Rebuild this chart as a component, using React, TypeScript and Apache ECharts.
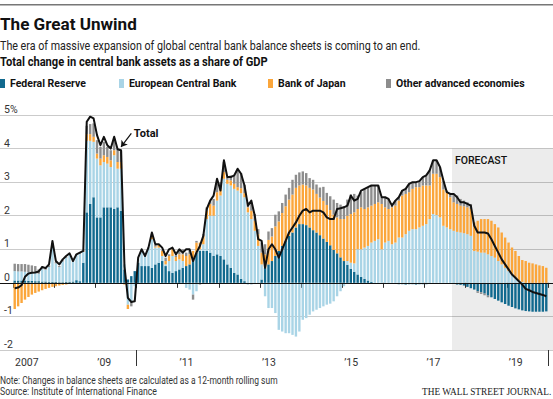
import React, { useEffect, useRef } from "react";
import * as echarts from "echarts";

// ---------- data ----------
const years = [2007, 2008, 2009, 2010, 2011, 2012, 2013, 2014, 2015, 2016, 2017, 2018, 2019];
const months: string[] = years.flatMap((y) =>
  Array.from({ length: 12 }, (_, m) => `${y}-${String(m + 1).padStart(2, "0")}`)
);

const seriesNames = ["Federal Reserve", "European Central Bank", "Bank of Japan", "Other advanced economies"];

const fed = [
  0.07, 0.07, 0.07, 0.07, 0.06, 0.06, 0.05, 0.05, 0.04, 0.04, 0.03, 0.03,
  0.03, 0.02, 0.02, 0.03, 0.03, 0.04, 0.08, 0.05, 0.6, 2.1, 2.35, 2.55,
  1.95, 1.95, 2.25, 2.25, 2.25, 2.2, 2.25, 2.15, 0.4, 0.1, 0.2, 0.35,
  0.6, 0.5, 0.5, 0.5, 0.45, 0.55, 0.6, 0.65, 0.5, 0.35, 0.3, 0.35,
  0.4, 0.45, 0.5, 0.55, 0.75, 0.9, 0.95, 0.95, 0.95, 0.9, 0.8, 0.85,
  0.8, 0.7, 0.55, 0.45, 0.3, 0.25, 0.12, 0.05, -0.04, -0.04, -0.03, -0.02,
  0.1, 0.45, 0.55, 0.65, 0.8, 0.95, 1.1, 1.25, 1.4, 1.5, 1.65, 1.75,
  1.75, 1.72, 1.65, 1.57, 1.5, 1.42, 1.32, 1.22, 1.12, 0.98, 0.88, 0.76,
  0.65, 0.54, 0.42, 0.33, 0.25, 0.18, 0.12, 0.07, 0.03, 0, 0, 0,
  0, 0, 0, 0, -0.04, -0.04, -0.05, -0.04, -0.04, -0.05, -0.04, -0.04,
  -0.04, -0.03, 0, 0, 0, 0, 0, 0, -0.03, -0.05, -0.06, -0.08,
  -0.12, -0.16, -0.2, -0.25, -0.28, -0.32, -0.38, -0.43, -0.48, -0.53, -0.58, -0.63,
  -0.68, -0.72, -0.76, -0.79, -0.82, -0.84, -0.85, -0.86, -0.86, -0.86, -0.86, -0.85,
];

const ecb = [
  0.28, 0.27, 0.27, 0.26, 0.26, 0.25, 0.26, 0.22, 0.38, 0.35, 0.44, 1.1,
  0.55, 0.45, 0.62, 0.72, 0.8, 0.6, 0.75, 0.82, 0.32, 2.13, 1.88, 1.65,
  1.75, 1.55, 1.35, 1.3, 1.2, 1.6, 1.15, 1.25, 0.15, -0.65, -0.58, -0.1,
  0.12, 0.5, 0.3, 0.55, 0.85, 0.5, 0.45, 0.15, 0.05, 0.3, 0.5, 0.3,
  0.3, 0.2, -0.15, -0.2, -0.35, -0.25, 0.05, 0.2, 0.95, 1.1, 1.2, 1.6,
  1.8, 2.4, 2.4, 2.45, 2.5, 2.5, 2.55, 2.5, 2.1, 1.9, 1.55, 1.1,
  0.45, -0.4, -0.75, -0.75, -0.9, -1.4, -1.45, -1.5, -1.5, -1.55, -1.6, -1.45,
  -1.1, -1.05, -0.95, -0.85, -0.8, -0.75, -0.7, -0.65, -0.62, -0.55, -0.4, -0.25,
  -0.1, 0.11, 0.18, 0.25, 0.75, 0.82, 0.93, 1.03, 1.17, 1.25, 1.3, 1.0,
  1.2, 1.25, 1.15, 1.2, 1.35, 1.35, 1.45, 1.55, 1.6, 1.6, 1.65, 1.7,
  1.75, 1.9, 2.05, 2.02, 1.95, 1.7, 1.65, 1.6, 1.55, 1.52, 1.5, 1.48,
  1.45, 1.4, 0.95, 0.93, 0.9, 0.9, 0.85, 0.8, 0.75, 0.65, 0.55, 0.45,
  0.35, 0.25, 0.15, 0.08, 0.03, 0, 0, 0, 0, 0, 0, 0,
];

const boj = [
  -0.78, -0.7, -0.6, -0.5, -0.42, -0.35, -0.3, -0.26, -0.22, -0.18, -0.15, -0.12,
  -0.1, -0.08, -0.06, -0.05, -0.03, -0.02, 0, 0, 0.02, 0.2, 0.2, 0.15,
  0.15, 0.2, 0.2, 0.2, 0.2, 0.15, 0.2, 0.2, -0.05, -0.13, 0, 0,
  0, 0, 0, 0, 0.1, 0.03, 0.08, 0.15, 0.1, 0.15, 0.2, 0.12,
  0.15, 0.2, 0.3, 0.3, 0.2, 0.3, 0.2, 0.25, 0.25, 0.35, 0.3, 0.25,
  0.2, 0.2, 0.12, 0.15, 0.15, 0.1, 0.15, 0.12, 0.15, 0.25, 0.3, 0.35,
  0.35, 0.4, 0.73, 0.73, 0.88, 0.88, 0.98, 1.03, 1.08, 1.13, 1.18, 1.15,
  1.18, 1.18, 1.18, 1.21, 1.15, 1.12, 1.12, 1.1, 1.05, 1.05, 1.07, 1.14,
  1.25, 1.35, 1.45, 1.52, 1.2, 1.25, 1.15, 1.15, 1.1, 1.1, 1.1, 1.35,
  1.05, 0.95, 1.1, 1.1, 1.1, 1.25, 1.2, 1.15, 1.2, 1.25, 1.2, 1.2,
  1.15, 1.0, 1.2, 1.23, 1.2, 1.08, 1.05, 0.95, 0.85, 0.83, 0.8, 0.8,
  0.8, 0.8, 0.85, 0.92, 1.0, 1.0, 1.05, 1.05, 1.0, 1.0, 0.95, 0.9,
  0.85, 0.8, 0.8, 0.72, 0.65, 0.65, 0.6, 0.58, 0.55, 0.52, 0.5, 0.45,
];

const other = [
  0.22, 0.22, 0.22, 0.23, 0.22, 0.21, 0.19, 0.13, 0.08, 0.09, 0.05, 0.06,
  0.04, 0.03, 0.03, 0.02, 0.02, 0.02, 0.02, 0.02, 0.02, 0.25, 0.3, 0.4,
  0.4, 0.35, 0.4, 0.3, 0.3, 0.35, 0.4, 0.35, 0, 0, -0.12, 0,
  0, 0, 0, 0, 0.05, 0.05, 0.02, 0.02, 0.1, 0.05, 0.02, 0.05,
  0.1, 0.15, 0.1, 0.12, -0.15, 0.05, -0.05, 0.05, 0.1, 0.1, 0.2, 0.25,
  0.2, 0.3, 0.1, 0.15, 0.25, 0.5, 0.45, 0.25, 0.15, 0.25, 0.2, 0.15,
  0.3, 0.3, 0.25, 0.25, 0.35, 0.3, 0.3, 0.35, 0.35, 0.44, 0.39, 0.39,
  0.39, 0.37, 0.29, 0.29, 0.28, 0.3, 0.42, 0.36, 0.41, 0.45, 0.43, 0.43,
  0.38, 0.48, 0.58, 0.55, 0.4, 0.45, 0.6, 0.6, 0.6, 0.55, 0.5, 0.2,
  0.3, 0.3, 0.05, 0.15, 0.1, 0.15, 0.15, 0.25, 0.2, 0.15, 0.18, 0.25,
  0.3, 0.45, 0.4, 0.4, 0.3, 0.27, 0.05, 0.13, 0.25, 0.25, 0.2, 0.17,
  0.15, 0.15, 0, -0.05, -0.05, -0.05, -0.05, 0, 0, 0, 0, 0,
  0, 0, 0, 0, 0, 0, 0, 0, 0, 0, 0, 0,
];

const total = [
  -0.16, -0.14, -0.07, 0.18, 0.28, 0.3, 0.31, 0.34, 0.47, 0.44, 0.55, 1.25,
  0.65, 0.55, 0.7, 0.8, 0.88, 0.65, 0.85, 0.9, 0.95, 4.8, 4.95, 4.9,
  4.4, 4.1, 4.35, 4.1, 4.0, 4.35, 3.98, 3.95, 0.5, -0.45, -0.57, -0.55,
  0.75, 1.0, 0.8, 1.05, 1.5, 1.15, 1.15, 1.05, 0.8, 1.0, 1.05, 0.85,
  1.0, 0.9, 1.0, 1.0, 0.65, 0.9, 1.1, 1.4, 2.2, 2.45, 2.6, 3.1,
  2.75, 3.65, 3.15, 3.15, 3.2, 3.4, 3.25, 2.9, 2.3, 2.45, 2.0, 1.3,
  1.25, 0.45, 1.0, 1.15, 1.0, 0.75, 1.0, 1.25, 1.5, 1.65, 1.8, 2.0,
  2.15, 2.2, 2.1, 2.15, 2.15, 2.15, 2.1, 1.95, 1.9, 1.9, 2.2, 2.22,
  2.25, 2.3, 2.6, 2.45, 2.5, 2.75, 2.8, 2.85, 2.9, 2.9, 2.9, 2.55,
  2.55, 2.5, 2.3, 2.45, 2.55, 2.75, 2.8, 2.95, 3.0, 3.0, 3.03, 3.15,
  3.2, 3.35, 3.65, 3.65, 3.45, 3.05, 2.7, 2.65, 2.65, 2.55, 2.4, 2.4,
  2.35, 2.3, 1.7, 1.5, 1.5, 1.5, 1.47, 1.3, 1.1, 0.9, 0.7, 0.55,
  0.4, 0.25, 0.15, 0.05, -0.05, -0.18, -0.22, -0.27, -0.3, -0.33, -0.36, -0.4,
];

const xTickLabelMonths = [0, 24, 48, 72, 96, 120, 144];
const xTickLabels = ["2007", "\u201909", "\u201911", "\u201913", "\u201915", "\u201917", "\u201919"];
const decadeTickMonths = [36, 156];
const yTickValues = [-2, -1, 0, 1, 2, 3, 4, 5];
const yTickLabels = ["-2", "-1", "0", "1", "2", "3", "4", "5%"];
const forecastStartMonth = 128; // Sep 2017
const annotationStartMonth = 34;
const annotationEndMonth = 31;

// ---------- layout / style ----------
const W = 553;
const H = 399;
const plotLeft = 13;
const plotRight = 5;
const gridTop = 115;
const gridBottom = 49;
const colors = ["#11698e", "#a9d4e6", "#fba63b", "#8d8d8d"];
const legendLeft = [0, 119, 268, 386];
const FONT = "Roboto";

function fitScale(text: string, font: string, width: number): number {
  const c = document.createElement("canvas").getContext("2d");
  if (!c) return 1;
  c.font = font;
  const w = c.measureText(text).width;
  return w > 0 ? width / w : 1;
}

function headText(
  text: string,
  x: number,
  y: number,
  size: number,
  weight: string,
  width: number,
  color: string,
  family: string = FONT
) {
  const famCss = family.includes(" ") ? `"${family}"` : family;
  return {
    type: "text",
    x,
    y,
    scaleX: fitScale(text, `${weight} ${size}px ${famCss}`, width),
    silent: true,
    style: {
      text,
      fontFamily: family,
      fontSize: size,
      fontWeight: weight,
      fill: color,
      align: "left",
      verticalAlign: "middle",
    },
  };
}

function buildOption() {
  const n = months.length;
  const band = (W - plotLeft - plotRight) / n;
  const x0Min = -plotLeft / band;
  const x0Max = n + plotRight / band;
  const yearTicks = years.map((_, k) => k * 12).concat([n]);
  const values = [fed, ecb, boj, other];

  return {
    animation: false,
    textStyle: { fontFamily: FONT },
    grid: [
      { left: 0, right: 0, top: gridTop, bottom: gridBottom },
      { left: plotLeft, right: plotRight, top: gridTop, bottom: gridBottom },
    ],
    legend: seriesNames.map((name, k) => ({
      data: [name],
      left: legendLeft[k],
      top: 78,
      padding: 0,
      itemWidth: 5,
      itemHeight: 9,
      icon: "rect",
      selectedMode: false,
      textStyle: { fontFamily: FONT, fontSize: 10.5, fontWeight: "bold", color: "#111" },
    })),
    xAxis: [
      {
        type: "value",
        gridIndex: 0,
        min: x0Min,
        max: x0Max,
        position: "bottom",
        axisLine: { show: false },
        splitLine: { show: false },
        axisTick: { show: true, customValues: yearTicks, length: 5, lineStyle: { color: "#333", width: 1 } },
        axisLabel: {
          customValues: xTickLabelMonths,
          formatter: (v: number) => {
            const k = xTickLabelMonths.indexOf(Math.round(v));
            return k >= 0 ? xTickLabels[k] : "";
          },
          align: "left",
          margin: 7,
          padding: [0, 0, 0, 2],
          fontSize: 10.5,
          color: "#333",
        },
      },
      { type: "category", gridIndex: 1, data: months, show: false },
      {
        type: "value",
        gridIndex: 0,
        min: x0Min,
        max: x0Max,
        position: "bottom",
        axisLine: { show: false },
        splitLine: { show: false },
        axisLabel: { show: false },
        axisTick: { show: true, customValues: decadeTickMonths, length: 16, lineStyle: { color: "#333", width: 1 } },
      },
    ],
    yAxis: [
      {
        type: "value",
        gridIndex: 0,
        min: -2,
        max: 5,
        interval: 1,
        axisLine: { show: false },
        axisTick: { show: false },
        splitLine: { show: true, lineStyle: { color: "#cbcbcb", width: 1 } },
        axisLabel: {
          inside: true,
          margin: 4,
          align: "left",
          verticalAlign: "bottom",
          fontSize: 10.5,
          color: "#333",
          formatter: (v: number) => {
            const k = yTickValues.indexOf(Math.round(v));
            return k >= 0 ? yTickLabels[k] : "";
          },
        },
      },
      { type: "value", gridIndex: 1, min: -2, max: 5, interval: 1, show: false },
    ],
    graphic: [
      { type: "rect", silent: true, shape: { x: 0, y: 4, width: W, height: 1.5 }, style: { fill: "#777" } },
      headText("The Great Unwind", 0, 24, 16.5, "bold", 137, "#111"),
      headText(
        "The era of massive expansion of global central bank balance sheets is coming to an end.",
        0,
        46,
        12,
        "normal",
        421,
        "#222"
      ),
      headText("Total change in central bank assets as a share of GDP", 0, 61.5, 12, "bold", 268, "#111"),
      headText(
        "Note: Changes in balance sheets are calculated as a 12-month rolling sum",
        0,
        380.5,
        10,
        "normal",
        278,
        "#333"
      ),
      headText("Source: Institute of International Finance", 0, 391, 10, "normal", 157, "#333"),
      headText("THE WALL STREET JOURNAL.", 422, 391.3, 11, "normal", 130, "#222", "Liberation Serif"),
    ],
    series: [
      ...seriesNames.map((name, k) => ({
        name,
        type: "bar",
        xAxisIndex: 1,
        yAxisIndex: 1,
        stack: "cb",
        data: values[k],
        barCategoryGap: "30%",
        itemStyle: { color: colors[k] },
        silent: true,
        z: 2,
      })),
      {
        name: "Total",
        type: "line",
        xAxisIndex: 1,
        yAxisIndex: 1,
        data: total,
        showSymbol: false,
        symbol: "none",
        silent: true,
        z: 3,
        lineStyle: { color: "#111", width: 2, join: "round" },
        markPoint: {
          silent: true,
          symbol: "circle",
          symbolSize: 1,
          itemStyle: { color: "rgba(0,0,0,0)" },
          label: {
            show: true,
            position: "right",
            distance: 2,
            formatter: "Total",
            fontFamily: FONT,
            fontWeight: "bold",
            fontSize: 11,
            color: "#111",
          },
          data: [{ coord: [months[annotationStartMonth], 4.45] }],
        },
        markLine: {
          silent: true,
          symbol: ["none", "arrow"],
          symbolSize: 6,
          label: { show: false },
          lineStyle: { color: "#111", width: 1.2, type: "solid", curveness: -0.4 },
          data: [
            [
              { coord: [months[annotationStartMonth], 4.45] },
              { coord: [months[annotationEndMonth], 4.05] },
            ],
          ],
        },
      },
      {
        name: "forecast",
        type: "line",
        xAxisIndex: 0,
        yAxisIndex: 0,
        data: [],
        silent: true,
        z: 1,
        markArea: {
          silent: true,
          itemStyle: { color: "rgba(0,0,0,0.075)" },
          label: {
            show: true,
            position: "insideTopLeft",
            distance: 3,
            offset: [0, 3],
            fontFamily: FONT,
            fontSize: 10.5,
            fontWeight: 500,
            color: "#111",
          },
          data: [[{ name: "FORECAST", xAxis: forecastStartMonth, yAxis: 4 }, { xAxis: x0Max, yAxis: -2 }]],
        },
      },
      {
        name: "zero",
        type: "line",
        xAxisIndex: 0,
        yAxisIndex: 0,
        data: [],
        silent: true,
        z: 10,
        markLine: {
          silent: true,
          symbol: ["none", "none"],
          label: { show: false },
          lineStyle: { color: "#111", width: 1.2, type: "solid" },
          data: [{ yAxis: 0 }],
        },
      },
    ],
  };
}

export default function App() {
  const ref = useRef<HTMLDivElement>(null);
  useEffect(() => {
    if (!ref.current) return;
    const chart = echarts.init(ref.current, null, { renderer: "svg" });
    chart.setOption(buildOption() as any);
    return () => chart.dispose();
  }, []);
  return (
    <div
      ref={ref}
      style={{ position: "fixed", left: 0, top: 0, width: W, height: H, background: "#fff" }}
    />
  );
}
